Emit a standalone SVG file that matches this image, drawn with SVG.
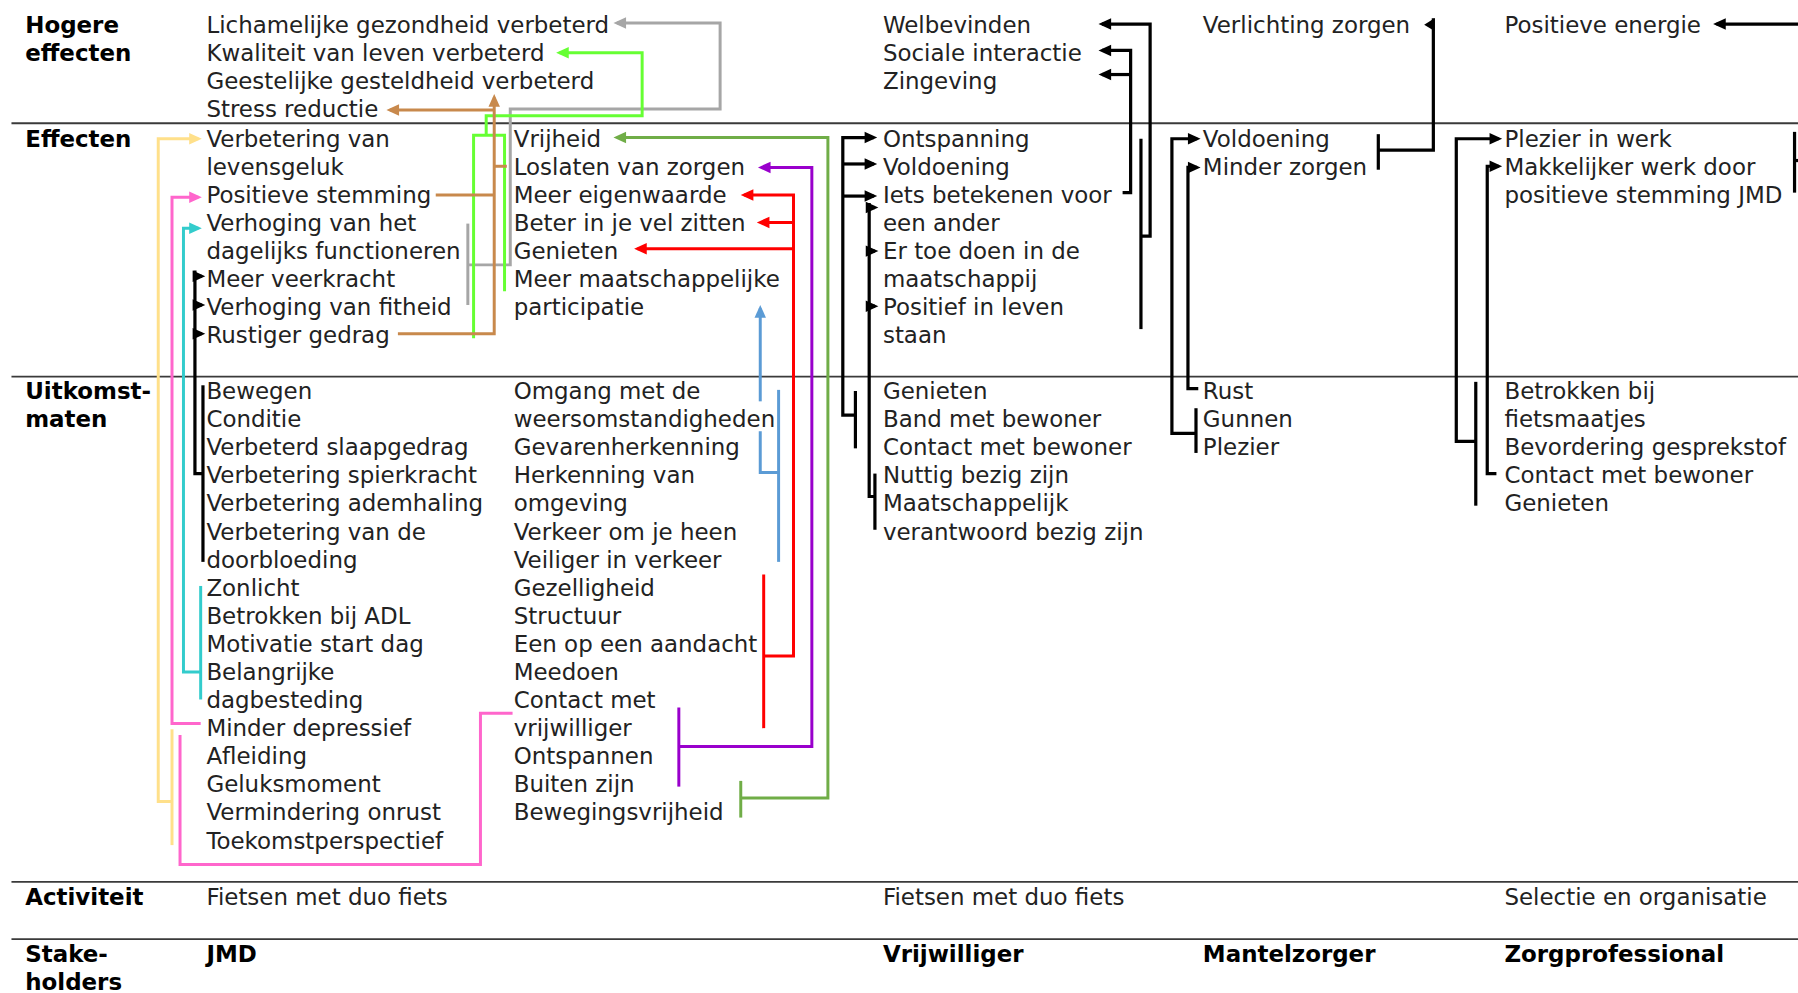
<svg xmlns="http://www.w3.org/2000/svg" width="1798" height="993" viewBox="0 0 1798 993">
<style>
.t{font-family:"DejaVu Sans",Verdana,sans-serif;font-size:20px;fill:#222}
.b{font-weight:bold;fill:#000}
.rule{stroke:#3a3a3a;stroke-width:1.6;fill:none}
.c{fill:none;stroke-width:2.6;stroke-linejoin:miter;stroke-linecap:butt}
.gray{stroke:#A6A6A6}.lg{stroke:#66FF33}.br{stroke:#C8894C}.ye{stroke:#FFE08A}.pk{stroke:#FF66CC}
.cy{stroke:#33CCCC}.bk{stroke:#000;stroke-width:2.8}.dg{stroke:#70AD47}.pu{stroke:#9900CC}.rd{stroke:#FF0000}.bl{stroke:#5B9BD5}
</style>
<defs>
<marker id="m-gray" markerUnits="userSpaceOnUse" markerWidth="11" markerHeight="10" refX="8" refY="5" orient="auto" overflow="visible"><path d="M0,0 L11,5 L0,10 Z" fill="#A6A6A6"/></marker>
<marker id="m-lg" markerUnits="userSpaceOnUse" markerWidth="11" markerHeight="10" refX="8" refY="5" orient="auto" overflow="visible"><path d="M0,0 L11,5 L0,10 Z" fill="#66FF33"/></marker>
<marker id="m-br" markerUnits="userSpaceOnUse" markerWidth="11" markerHeight="10" refX="8" refY="5" orient="auto" overflow="visible"><path d="M0,0 L11,5 L0,10 Z" fill="#C8894C"/></marker>
<marker id="m-ye" markerUnits="userSpaceOnUse" markerWidth="11" markerHeight="10" refX="8" refY="5" orient="auto" overflow="visible"><path d="M0,0 L11,5 L0,10 Z" fill="#FFE08A"/></marker>
<marker id="m-pk" markerUnits="userSpaceOnUse" markerWidth="11" markerHeight="10" refX="8" refY="5" orient="auto" overflow="visible"><path d="M0,0 L11,5 L0,10 Z" fill="#FF66CC"/></marker>
<marker id="m-cy" markerUnits="userSpaceOnUse" markerWidth="11" markerHeight="10" refX="8" refY="5" orient="auto" overflow="visible"><path d="M0,0 L11,5 L0,10 Z" fill="#33CCCC"/></marker>
<marker id="m-bk" markerUnits="userSpaceOnUse" markerWidth="11" markerHeight="10" refX="8" refY="5" orient="auto" overflow="visible"><path d="M0,0 L11,5 L0,10 Z" fill="#000"/></marker>
<marker id="m-dg" markerUnits="userSpaceOnUse" markerWidth="11" markerHeight="10" refX="8" refY="5" orient="auto" overflow="visible"><path d="M0,0 L11,5 L0,10 Z" fill="#70AD47"/></marker>
<marker id="m-pu" markerUnits="userSpaceOnUse" markerWidth="11" markerHeight="10" refX="8" refY="5" orient="auto" overflow="visible"><path d="M0,0 L11,5 L0,10 Z" fill="#9900CC"/></marker>
<marker id="m-rd" markerUnits="userSpaceOnUse" markerWidth="11" markerHeight="10" refX="8" refY="5" orient="auto" overflow="visible"><path d="M0,0 L11,5 L0,10 Z" fill="#FF0000"/></marker>
<marker id="m-bl" markerUnits="userSpaceOnUse" markerWidth="11" markerHeight="10" refX="8" refY="5" orient="auto" overflow="visible"><path d="M0,0 L11,5 L0,10 Z" fill="#5B9BD5"/></marker>
</defs>
<rect x="0" y="0" width="1798" height="993" fill="#fff"/>
<g transform="scale(1.14668)">
<g id="rules">
<line class="rule" x1="10" y1="107.5" x2="1568" y2="107.5"/>
<line class="rule" x1="10" y1="328.5" x2="1568" y2="328.5"/>
<line class="rule" x1="10" y1="769" x2="1568" y2="769"/>
<line class="rule" x1="10" y1="819" x2="1568" y2="819"/>
</g>
<g id="row-labels" class="t b">
<text id="lbl-hogere" x="22" y="28.5">Hogere<tspan x="22" y="53">effecten</tspan></text>
<text id="lbl-effecten" x="22" y="128">Effecten</text>
<text id="lbl-uitkomst" x="22" y="348">Uitkomst-<tspan x="22" y="372.5">maten</tspan></text>
<text id="lbl-activiteit" x="22" y="789">Activiteit</text>
<text id="lbl-stake" x="22" y="839">Stake-<tspan x="22" y="863">holders</tspan></text>
</g>
<g id="col-jmd" class="t">
<g id="n-lichamelijke"><text x="180" y="28.5">Lichamelijke gezondheid verbeterd</text></g>
<g id="n-kwaliteit"><text x="180" y="53">Kwaliteit van leven verbeterd</text></g>
<g id="n-geestelijke"><text x="180" y="77.5">Geestelijke gesteldheid verbeterd</text></g>
<g id="n-stress"><text x="180" y="102">Stress reductie</text></g>
<g id="n-levensgeluk"><text x="180" y="128">Verbetering van</text><text x="180" y="152.5">levensgeluk</text></g>
<g id="n-posstemming"><text x="180" y="177">Positieve stemming</text></g>
<g id="n-dagelijks"><text x="180" y="201.5">Verhoging van het</text><text x="180" y="226">dagelijks functioneren</text></g>
<g id="n-veerkracht"><text x="180" y="250.5">Meer veerkracht</text></g>
<g id="n-fitheid"><text x="180" y="275">Verhoging van fitheid</text></g>
<g id="n-rustiger"><text x="180" y="299.5">Rustiger gedrag</text></g>
<g id="n-bewegen"><text x="180" y="348">Bewegen</text></g>
<g id="n-conditie"><text x="180" y="372.5">Conditie</text></g>
<g id="n-slaap"><text x="180" y="397">Verbeterd slaapgedrag</text></g>
<g id="n-spier"><text x="180" y="421.5">Verbetering spierkracht</text></g>
<g id="n-adem"><text x="180" y="446">Verbetering ademhaling</text></g>
<g id="n-doorbloeding"><text x="180" y="470.5">Verbetering van de</text><text x="180" y="495">doorbloeding</text></g>
<g id="n-zonlicht"><text x="180" y="519.5">Zonlicht</text></g>
<g id="n-adl"><text x="180" y="544">Betrokken bij ADL</text></g>
<g id="n-motivatie"><text x="180" y="568.5">Motivatie start dag</text></g>
<g id="n-dagbesteding"><text x="180" y="593">Belangrijke</text><text x="180" y="617.5">dagbesteding</text></g>
<g id="n-depressief"><text x="180" y="642">Minder depressief</text></g>
<g id="n-afleiding"><text x="180" y="666.5">Afleiding</text></g>
<g id="n-geluksmoment"><text x="180" y="691">Geluksmoment</text></g>
<g id="n-onrust"><text x="180" y="715.5">Vermindering onrust</text></g>
<g id="n-toekomst"><text x="180" y="740">Toekomstperspectief</text></g>
<g id="n-act-jmd"><text x="180" y="789">Fietsen met duo fiets</text></g>
<g id="n-sh-jmd"><text class="b" x="180" y="839">JMD</text></g>
</g>
<g id="col-jmd2" class="t">
<g id="n-vrijheid"><text x="448" y="128">Vrijheid</text></g>
<g id="n-loslaten"><text x="448" y="152.5">Loslaten van zorgen</text></g>
<g id="n-eigenwaarde"><text x="448" y="177">Meer eigenwaarde</text></g>
<g id="n-vel"><text x="448" y="201.5">Beter in je vel zitten</text></g>
<g id="n-genieten1"><text x="448" y="226">Genieten</text></g>
<g id="n-participatie"><text x="448" y="250.5">Meer maatschappelijke</text><text x="448" y="275">participatie</text></g>
<g id="n-weer"><text x="448" y="348">Omgang met de</text><text x="448" y="372.5">weersomstandigheden</text></g>
<g id="n-gevaren"><text x="448" y="397">Gevarenherkenning</text></g>
<g id="n-omgeving"><text x="448" y="421.5">Herkenning van</text><text x="448" y="446">omgeving</text></g>
<g id="n-verkeer"><text x="448" y="470.5">Verkeer om je heen</text></g>
<g id="n-veiliger"><text x="448" y="495">Veiliger in verkeer</text></g>
<g id="n-gezelligheid"><text x="448" y="519.5">Gezelligheid</text></g>
<g id="n-structuur"><text x="448" y="544">Structuur</text></g>
<g id="n-aandacht"><text x="448" y="568.5">Een op een aandacht</text></g>
<g id="n-meedoen"><text x="448" y="593">Meedoen</text></g>
<g id="n-contactvrij"><text x="448" y="617.5">Contact met</text><text x="448" y="642">vrijwilliger</text></g>
<g id="n-ontspannen"><text x="448" y="666.5">Ontspannen</text></g>
<g id="n-buiten"><text x="448" y="691">Buiten zijn</text></g>
<g id="n-bewegingsvrijheid"><text x="448" y="715.5">Bewegingsvrijheid</text></g>
</g>
<g id="col-vrijwilliger" class="t">
<g id="n-welbevinden"><text x="770" y="28.5">Welbevinden</text></g>
<g id="n-sociale"><text x="770" y="53">Sociale interactie</text></g>
<g id="n-zingeving"><text x="770" y="77.5">Zingeving</text></g>
<g id="n-ontspanning"><text x="770" y="128">Ontspanning</text></g>
<g id="n-voldoening-v"><text x="770" y="152.5">Voldoening</text></g>
<g id="n-iets"><text x="770" y="177">Iets betekenen voor</text><text x="770" y="201.5">een ander</text></g>
<g id="n-ertoe"><text x="770" y="226">Er toe doen in de</text><text x="770" y="250.5">maatschappij</text></g>
<g id="n-positief"><text x="770" y="275">Positief in leven</text><text x="770" y="299.5">staan</text></g>
<g id="n-genieten-v"><text x="770" y="348">Genieten</text></g>
<g id="n-band"><text x="770" y="372.5">Band met bewoner</text></g>
<g id="n-contact-v"><text x="770" y="397">Contact met bewoner</text></g>
<g id="n-nuttig"><text x="770" y="421.5">Nuttig bezig zijn</text></g>
<g id="n-maatsch"><text x="770" y="446">Maatschappelijk</text><text x="770" y="470.5">verantwoord bezig zijn</text></g>
<g id="n-act-v"><text x="770" y="789">Fietsen met duo fiets</text></g>
<g id="n-sh-v"><text class="b" x="770" y="839">Vrijwilliger</text></g>
</g>
<g id="col-mantelzorger" class="t">
<g id="n-verlichting"><text x="1049" y="28.5">Verlichting zorgen</text></g>
<g id="n-voldoening-m"><text x="1049" y="128">Voldoening</text></g>
<g id="n-minderzorgen"><text x="1049" y="152.5">Minder zorgen</text></g>
<g id="n-rust"><text x="1049" y="348">Rust</text></g>
<g id="n-gunnen"><text x="1049" y="372.5">Gunnen</text></g>
<g id="n-plezier"><text x="1049" y="397">Plezier</text></g>
<g id="n-sh-m"><text class="b" x="1049" y="839">Mantelzorger</text></g>
</g>
<g id="col-zorgprof" class="t">
<g id="n-energie"><text x="1312" y="28.5">Positieve energie</text></g>
<g id="n-plezierwerk"><text x="1312" y="128">Plezier in werk</text></g>
<g id="n-makkelijker"><text x="1312" y="152.5">Makkelijker werk door</text><text x="1312" y="177">positieve stemming JMD</text></g>
<g id="n-fietsmaatjes"><text x="1312" y="348">Betrokken bij</text><text x="1312" y="372.5">fietsmaatjes</text></g>
<g id="n-gesprekstof"><text x="1312" y="397">Bevordering gesprekstof</text></g>
<g id="n-contact-z"><text x="1312" y="421.5">Contact met bewoner</text></g>
<g id="n-genieten-z"><text x="1312" y="446">Genieten</text></g>
<g id="n-act-z"><text x="1312" y="789">Selectie en organisatie</text></g>
<g id="n-sh-z"><text class="b" x="1312" y="839">Zorgprofessional</text></g>
</g>
<g id="connectors">
<path class="c gray" d="M408 195 V266"/>
<path class="c gray" d="M408 231 H445 V95 H628 V20 H538" marker-end="url(#m-gray)"/>
<path class="c lg" d="M413 295 V118 H440 V254"/>
<path class="c lg" d="M424 118 V101 H560 V46 H488" marker-end="url(#m-lg)"/>
<path class="c br" d="M347 291 H431 V85" marker-end="url(#m-br)"/>
<path class="c br" d="M380 170 H431"/>
<path class="c br" d="M431 145 H442"/>
<path class="c br" d="M431 96 H340" marker-end="url(#m-br)"/>
<path class="c ye" d="M150 699 H138 V121 H173" marker-end="url(#m-ye)"/>
<path class="c ye" d="M150 636 V737"/>
<path class="c pk" d="M175 631 H150 V172 H173" marker-end="url(#m-pk)"/>
<path class="c pk" d="M157 641 V754 H419 V622 H447"/>
<path class="c cy" d="M175 511 V610"/>
<path class="c cy" d="M175 586 H160 V199 H173" marker-end="url(#m-cy)"/>
<path class="c bk" d="M177 336 V490"/>
<path class="c bk" d="M177 413 H170 V236"/>
<path class="c bk" d="M170 241 H176" marker-end="url(#m-bk)"/>
<path class="c bk" d="M170 266 H176" marker-end="url(#m-bk)"/>
<path class="c bk" d="M170 291 H176" marker-end="url(#m-bk)"/>
<path class="c dg" d="M646 681 V713"/>
<path class="c dg" d="M646 696 H722 V120 H538" marker-end="url(#m-dg)"/>
<path class="c pu" d="M592 617 V686"/>
<path class="c pu" d="M592 651 H708 V146 H664" marker-end="url(#m-pu)"/>
<path class="c rd" d="M666 501 V635"/>
<path class="c rd" d="M666 572 H692 V170 H649" marker-end="url(#m-rd)"/>
<path class="c rd" d="M692 194 H663" marker-end="url(#m-rd)"/>
<path class="c rd" d="M692 217 H556" marker-end="url(#m-rd)"/>
<path class="c bl" d="M679 340 V490"/>
<path class="c bl" d="M679 412 H663 V376"/>
<path class="c bl" d="M663 350 V269" marker-end="url(#m-bl)"/>
<path class="c bk" d="M995 121 V287"/>
<path class="c bk" d="M995 206 H1003 V21 H961" marker-end="url(#m-bk)"/>
<path class="c bk" d="M979 168 H986 V44 H961" marker-end="url(#m-bk)"/>
<path class="c bk" d="M986 65 H961" marker-end="url(#m-bk)"/>
<path class="c bk" d="M746 341 V391"/>
<path class="c bk" d="M746 362 H735 V120 H762" marker-end="url(#m-bk)"/>
<path class="c bk" d="M735 143 H762" marker-end="url(#m-bk)"/>
<path class="c bk" d="M735 171 H762" marker-end="url(#m-bk)"/>
<path class="c bk" d="M763 413 V462"/>
<path class="c bk" d="M763 433 H758 V177"/>
<path class="c bk" d="M758 181 H763" marker-end="url(#m-bk)"/>
<path class="c bk" d="M758 219 H763" marker-end="url(#m-bk)"/>
<path class="c bk" d="M758 267 H763" marker-end="url(#m-bk)"/>
<path class="c bk" d="M1202 117 V148"/>
<path class="c bk" d="M1202 131 H1250 V16"/>
<polygon points="1242,21.5 1251,16 1251,27" fill="#000"/>
<path class="c bk" d="M1043 378 H1022 V121 H1044" marker-end="url(#m-bk)"/>
<path class="c bk" d="M1043 356 V395"/>
<path class="c bk" d="M1045 339 H1036 V146 H1044" marker-end="url(#m-bk)"/>
<path class="c bk" d="M1568 21 H1497" marker-end="url(#m-bk)"/>
<path class="c bk" d="M1565 115 V168"/>
<path class="c bk" d="M1565 140 H1568"/>
<path class="c bk" d="M1287 333 V441"/>
<path class="c bk" d="M1287 385 H1270 V121 H1307" marker-end="url(#m-bk)"/>
<path class="c bk" d="M1305 413 H1297 V145 H1307" marker-end="url(#m-bk)"/>
</g>
</g>
</svg>
